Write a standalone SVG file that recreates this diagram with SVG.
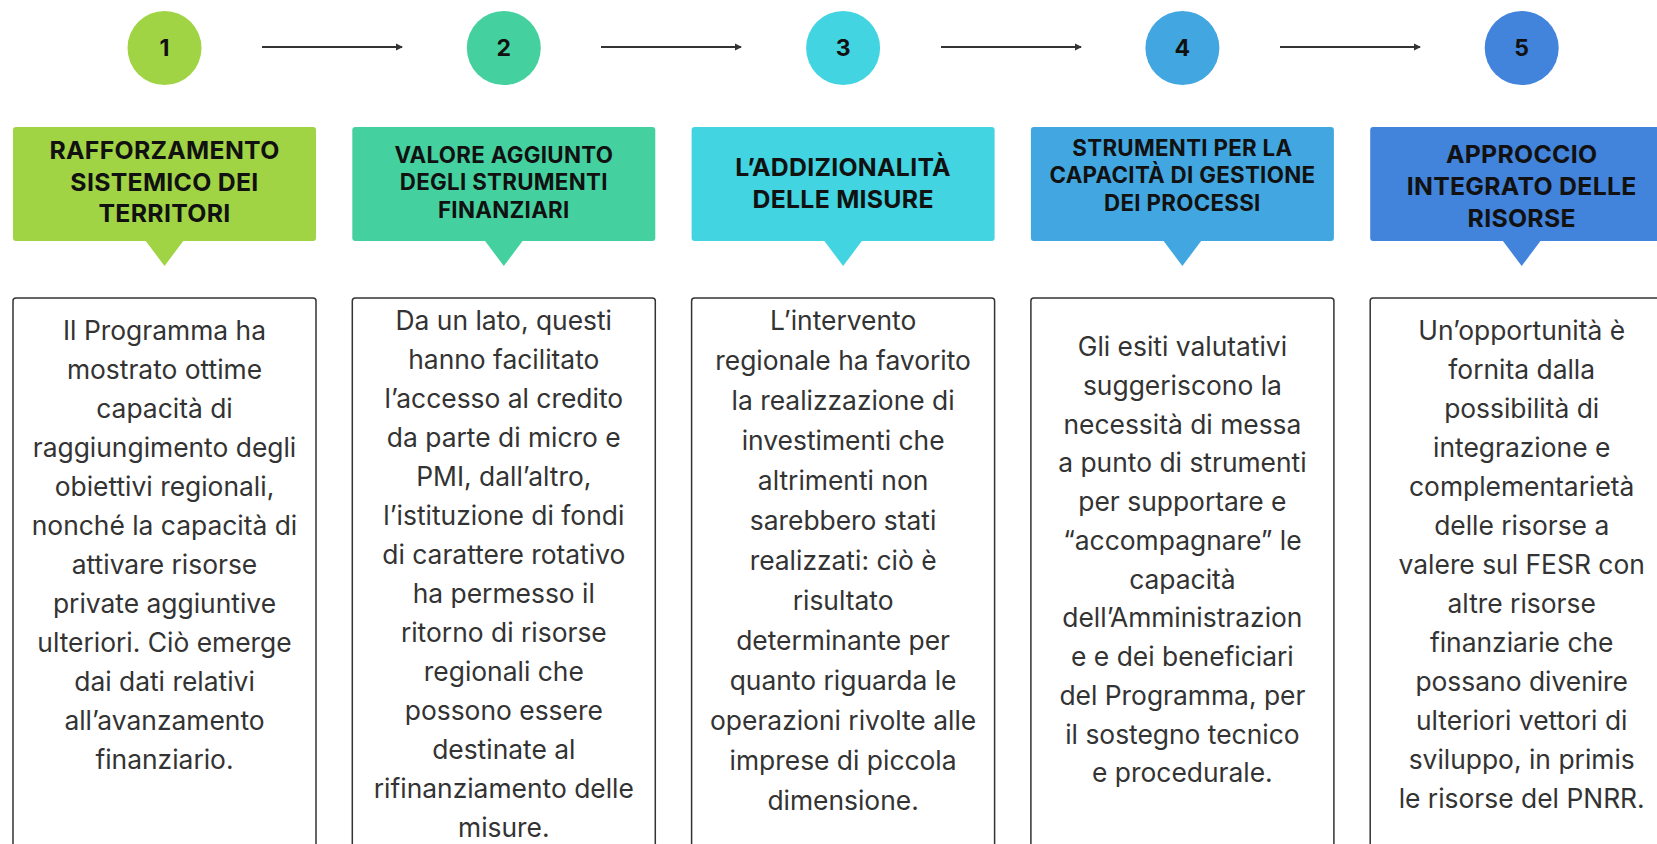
<svg xmlns="http://www.w3.org/2000/svg" width="1657" height="844" viewBox="0 0 1657 844">
<style>
.num{font-family:Inter,"Liberation Sans",sans-serif;font-weight:700;font-size:23px;fill:#111;text-anchor:middle}
.hd{font-family:Inter,"Liberation Sans",sans-serif;font-weight:700;font-size:24.8px;fill:#111;text-anchor:middle;letter-spacing:0.3px}
.hs{font-size:22.3px}
.bd{font-family:Inter,"Liberation Sans",sans-serif;font-size:26.4px;fill:#333;text-anchor:middle}
.tb{fill:#fff;stroke:#333;stroke-width:1.5}
.ar{stroke:#333;stroke-width:2;fill:none}
</style>
<defs>
<marker id="ah" markerWidth="8" markerHeight="8" refX="6" refY="4" orient="auto" markerUnits="userSpaceOnUse">
<path d="M0,0.5 L7,4 L0,7.5 Z" fill="#333"/>
</marker>
</defs>
<g id="connectors">
<line class="ar" x1="262" y1="47" x2="402" y2="47" marker-end="url(#ah)"/>
<line class="ar" x1="601" y1="47" x2="741" y2="47" marker-end="url(#ah)"/>
<line class="ar" x1="941" y1="47" x2="1081" y2="47" marker-end="url(#ah)"/>
<line class="ar" x1="1280" y1="47" x2="1420" y2="47" marker-end="url(#ah)"/>
</g>
<g id="step1">
<circle cx="164.5" cy="48" r="37" fill="#A0D445"/>
<text class="num" x="164.5" y="56">1</text>
<rect x="13" y="127" width="303" height="114" rx="3" fill="#A0D445"/>
<path d="M145,240 L184,240 L164.5,266 Z" fill="#A0D445"/>
<text class="hd"><tspan x="164.5" y="158.5">RAFFORZAMENTO</tspan><tspan x="164.5" y="190.5">SISTEMICO DEI</tspan><tspan x="164.5" y="222">TERRITORI</tspan></text>
<rect class="tb" x="13" y="298" width="303" height="560" rx="3"/>
<text class="bd"><tspan x="164.5" y="340">Il Programma ha</tspan><tspan x="164.5" y="379">mostrato ottime</tspan><tspan x="164.5" y="418">capacità di</tspan><tspan x="164.5" y="457">raggiungimento degli</tspan><tspan x="164.5" y="496">obiettivi regionali,</tspan><tspan x="164.5" y="535">nonché la capacità di</tspan><tspan x="164.5" y="574">attivare risorse</tspan><tspan x="164.5" y="613">private aggiuntive</tspan><tspan x="164.5" y="652">ulteriori. Ciò emerge</tspan><tspan x="164.5" y="691">dai dati relativi</tspan><tspan x="164.5" y="730">all’avanzamento</tspan><tspan x="164.5" y="769">finanziario.</tspan></text>
</g>
<g id="step2">
<circle cx="503.8" cy="48" r="37" fill="#45D19F"/>
<text class="num" x="503.8" y="56">2</text>
<rect x="352.3" y="127" width="303" height="114" rx="3" fill="#45D19F"/>
<path d="M484.3,240 L523.3,240 L503.8,266 Z" fill="#45D19F"/>
<text class="hd hs"><tspan x="503.8" y="162.5">VALORE AGGIUNTO</tspan><tspan x="503.8" y="190">DEGLI STRUMENTI</tspan><tspan x="503.8" y="217.5">FINANZIARI</tspan></text>
<rect class="tb" x="352.3" y="298" width="303" height="560" rx="3"/>
<text class="bd"><tspan x="503.8" y="330">Da un lato, questi</tspan><tspan x="503.8" y="369">hanno facilitato</tspan><tspan x="503.8" y="408">l’accesso al credito</tspan><tspan x="503.8" y="447">da parte di micro e</tspan><tspan x="503.8" y="486">PMI, dall’altro,</tspan><tspan x="503.8" y="525">l’istituzione di fondi</tspan><tspan x="503.8" y="564">di carattere rotativo</tspan><tspan x="503.8" y="603">ha permesso il</tspan><tspan x="503.8" y="642">ritorno di risorse</tspan><tspan x="503.8" y="681">regionali che</tspan><tspan x="503.8" y="720">possono essere</tspan><tspan x="503.8" y="759">destinate al</tspan><tspan x="503.8" y="798">rifinanziamento delle</tspan><tspan x="503.8" y="837">misure.</tspan></text>
</g>
<g id="step3">
<circle cx="843.1" cy="48" r="37" fill="#42D4E0"/>
<text class="num" x="843.1" y="56">3</text>
<rect x="691.6" y="127" width="303" height="114" rx="3" fill="#42D4E0"/>
<path d="M823.6,240 L862.6,240 L843.1,266 Z" fill="#42D4E0"/>
<text class="hd"><tspan x="843.1" y="175.5">L’ADDIZIONALITÀ</tspan><tspan x="843.1" y="207.5">DELLE MISURE</tspan></text>
<rect class="tb" x="691.6" y="298" width="303" height="560" rx="3"/>
<text class="bd"><tspan x="843.1" y="330">L’intervento</tspan><tspan x="843.1" y="370">regionale ha favorito</tspan><tspan x="843.1" y="410">la realizzazione di</tspan><tspan x="843.1" y="450">investimenti che</tspan><tspan x="843.1" y="490">altrimenti non</tspan><tspan x="843.1" y="530">sarebbero stati</tspan><tspan x="843.1" y="570">realizzati: ciò è</tspan><tspan x="843.1" y="610">risultato</tspan><tspan x="843.1" y="650">determinante per</tspan><tspan x="843.1" y="690">quanto riguarda le</tspan><tspan x="843.1" y="730">operazioni rivolte alle</tspan><tspan x="843.1" y="770">imprese di piccola</tspan><tspan x="843.1" y="810">dimensione.</tspan></text>
</g>
<g id="step4">
<circle cx="1182.4" cy="48" r="37" fill="#42A7E0"/>
<text class="num" x="1182.4" y="56">4</text>
<rect x="1030.9" y="127" width="303" height="114" rx="3" fill="#42A7E0"/>
<path d="M1162.9,240 L1201.9,240 L1182.4,266 Z" fill="#42A7E0"/>
<text class="hd hs"><tspan x="1182.4" y="155.5">STRUMENTI PER LA</tspan><tspan x="1182.4" y="183">CAPACITÀ DI GESTIONE</tspan><tspan x="1182.4" y="210.5">DEI PROCESSI</tspan></text>
<rect class="tb" x="1030.9" y="298" width="303" height="560" rx="3"/>
<text class="bd"><tspan x="1182.4" y="356">Gli esiti valutativi</tspan><tspan x="1182.4" y="394.75">suggeriscono la</tspan><tspan x="1182.4" y="433.5">necessità di messa</tspan><tspan x="1182.4" y="472.25">a punto di strumenti</tspan><tspan x="1182.4" y="511">per supportare e</tspan><tspan x="1182.4" y="549.75">“accompagnare” le</tspan><tspan x="1182.4" y="588.5">capacità</tspan><tspan x="1182.4" y="627.25">dell’Amministrazion</tspan><tspan x="1182.4" y="666">e e dei beneficiari</tspan><tspan x="1182.4" y="704.75">del Programma, per</tspan><tspan x="1182.4" y="743.5">il sostegno tecnico</tspan><tspan x="1182.4" y="782.25">e procedurale.</tspan></text>
</g>
<g id="step5">
<circle cx="1521.7" cy="48" r="37" fill="#4283DC"/>
<text class="num" x="1521.7" y="56">5</text>
<rect x="1370.2" y="127" width="303" height="114" rx="3" fill="#4283DC"/>
<path d="M1502.2,240 L1541.2,240 L1521.7,266 Z" fill="#4283DC"/>
<text class="hd"><tspan x="1521.7" y="162.5">APPROCCIO</tspan><tspan x="1521.7" y="194.5">INTEGRATO DELLE</tspan><tspan x="1521.7" y="226.5">RISORSE</tspan></text>
<rect class="tb" x="1370.2" y="298" width="303" height="560" rx="3"/>
<text class="bd"><tspan x="1521.7" y="340">Un’opportunità è</tspan><tspan x="1521.7" y="379">fornita dalla</tspan><tspan x="1521.7" y="418">possibilità di</tspan><tspan x="1521.7" y="457">integrazione e</tspan><tspan x="1521.7" y="496">complementarietà</tspan><tspan x="1521.7" y="535">delle risorse a</tspan><tspan x="1521.7" y="574">valere sul FESR con</tspan><tspan x="1521.7" y="613">altre risorse</tspan><tspan x="1521.7" y="652">finanziarie che</tspan><tspan x="1521.7" y="691">possano divenire</tspan><tspan x="1521.7" y="730">ulteriori vettori di</tspan><tspan x="1521.7" y="769">sviluppo, in primis</tspan><tspan x="1521.7" y="808">le risorse del PNRR.</tspan></text>
</g>
</svg>
